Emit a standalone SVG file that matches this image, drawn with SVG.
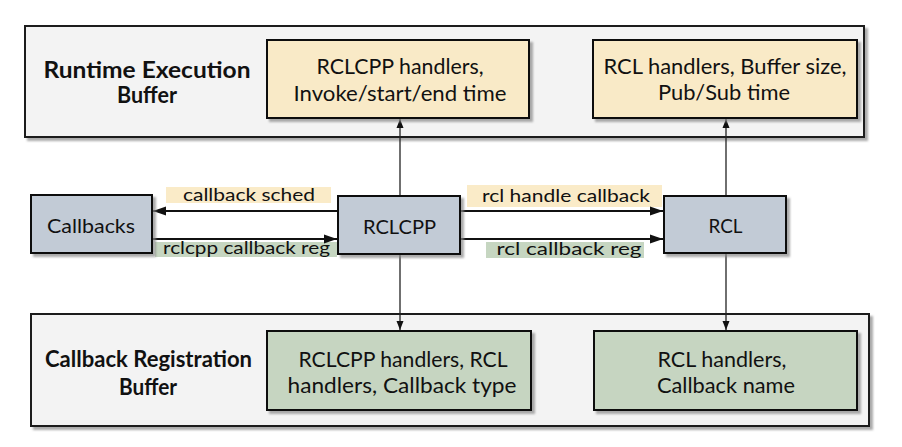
<svg xmlns="http://www.w3.org/2000/svg" width="902" height="447" viewBox="0 0 902 447">
<style>
text{font-family:Lato,"Open Sans","Liberation Sans",sans-serif;fill:#111;text-anchor:middle}
.title{font-weight:bold;font-size:22px}
.t{font-size:22px}
.n{font-size:20px}
.l{font-size:18px}
.outer{fill:#f3f3f3;stroke:#1e1e1e;stroke-width:2;filter:url(#sh)}
.yel{fill:#f9eac7;stroke:#111;stroke-width:2;filter:url(#sh)}
.grn{fill:#c6d5c1;stroke:#111;stroke-width:2;filter:url(#sh)}
.node{fill:#c2cbd6;stroke:#111;stroke-width:2;filter:url(#sh)}
.lby{fill:#faebc8}
.lbg{fill:#c6d6c1}
.h{stroke:#111;stroke-width:2;fill:none;marker-end:url(#ah)}
.v{stroke:#222;stroke-width:1.3;fill:none;marker-end:url(#av)}
</style>
<defs>
<filter id="sh" x="-5%" y="-5%" width="115%" height="130%">
<feDropShadow dx="3" dy="3" stdDeviation="1" flood-color="#888" flood-opacity="0.7"/>
</filter>
<marker id="ah" markerUnits="userSpaceOnUse" markerWidth="14" markerHeight="10" refX="13" refY="5" orient="auto">
<path d="M0,0.5 L13,5 L0,9.5 z" fill="#111"/>
</marker>
<marker id="av" markerUnits="userSpaceOnUse" markerWidth="10" markerHeight="8" refX="9" refY="4" orient="auto">
<path d="M0,0.5 L9,4 L0,7.5 z" fill="#111"/>
</marker>
</defs>

<g id="runtime-buffer">
<rect class="outer" x="25" y="26" width="839" height="111"/>
<text class="title" x="147" y="78" textLength="207" lengthAdjust="spacingAndGlyphs">Runtime Execution</text>
<text class="title" x="147" y="103" textLength="60" lengthAdjust="spacingAndGlyphs">Buffer</text>
</g>
<g id="registration-buffer">
<rect class="outer" x="31" y="314" width="838" height="112"/>
<text class="title" x="148.5" y="367" textLength="207" lengthAdjust="spacingAndGlyphs">Callback Registration</text>
<text class="title" x="148" y="395" textLength="58" lengthAdjust="spacingAndGlyphs">Buffer</text>
</g>

<g id="connectors">
<line class="v" x1="400" y1="196" x2="400" y2="119"/>
<line class="v" x1="400" y1="254" x2="400" y2="330"/>
<line class="v" x1="726" y1="196" x2="726" y2="119"/>
<line class="v" x1="726" y1="253" x2="726" y2="330"/>
<rect class="lby" x="166" y="187" width="165" height="16"/>
<text class="l" x="249" y="200.5" textLength="132" lengthAdjust="spacingAndGlyphs">callback sched</text>
<line class="h" x1="338" y1="211" x2="153" y2="211"/>
<rect class="lbg" x="155" y="242" width="182" height="15"/>
<line class="h" x1="152" y1="239" x2="337" y2="239"/>
<text class="l" x="246.5" y="254" textLength="167" lengthAdjust="spacingAndGlyphs">rclcpp callback reg</text>
<rect class="lby" x="467" y="185" width="195" height="22"/>
<text class="l" x="566" y="201.5" textLength="168" lengthAdjust="spacingAndGlyphs">rcl handle callback</text>
<line class="h" x1="460" y1="211" x2="663" y2="211"/>
<rect class="lbg" x="486" y="242" width="158" height="16"/>
<line class="h" x1="460" y1="239" x2="663" y2="239"/>
<text class="l" x="569" y="255" textLength="145" lengthAdjust="spacingAndGlyphs">rcl callback reg</text>
</g>

<g id="rclcpp-exec">
<rect class="yel" x="267" y="40" width="262" height="78"/>
<text class="t" x="400" y="73.5" textLength="167" lengthAdjust="spacingAndGlyphs">RCLCPP handlers,</text>
<text class="t" x="400" y="100.5" textLength="213" lengthAdjust="spacingAndGlyphs">Invoke/start/end time</text>
</g>
<g id="rcl-exec">
<rect class="yel" x="593" y="40" width="264" height="78"/>
<text class="t" x="725" y="73.5" textLength="243" lengthAdjust="spacingAndGlyphs">RCL handlers, Buffer size,</text>
<text class="t" x="724" y="100" textLength="132" lengthAdjust="spacingAndGlyphs">Pub/Sub time</text>
</g>

<g id="callbacks">
<rect class="node" x="31" y="195" width="121" height="58"/>
<text class="n" x="91" y="233" textLength="88" lengthAdjust="spacingAndGlyphs">Callbacks</text>
</g>
<g id="rclcpp">
<rect class="node" x="338" y="196" width="122" height="58"/>
<text class="n" x="399.5" y="234" textLength="73" lengthAdjust="spacingAndGlyphs">RCLCPP</text>
</g>
<g id="rcl">
<rect class="node" x="664" y="196" width="122" height="57"/>
<text class="n" x="725.5" y="233" textLength="34" lengthAdjust="spacingAndGlyphs">RCL</text>
</g>

<g id="rclcpp-reg">
<rect class="grn" x="267" y="331" width="264" height="79"/>
<text class="t" x="403" y="366.5" textLength="209" lengthAdjust="spacingAndGlyphs">RCLCPP handlers, RCL</text>
<text class="t" x="402" y="393" textLength="229" lengthAdjust="spacingAndGlyphs">handlers, Callback type</text>
</g>
<g id="rcl-reg">
<rect class="grn" x="594" y="331" width="263" height="79"/>
<text class="t" x="722" y="366.5" textLength="129" lengthAdjust="spacingAndGlyphs">RCL handlers,</text>
<text class="t" x="726" y="393" textLength="138" lengthAdjust="spacingAndGlyphs">Callback name</text>
</g>
</svg>
